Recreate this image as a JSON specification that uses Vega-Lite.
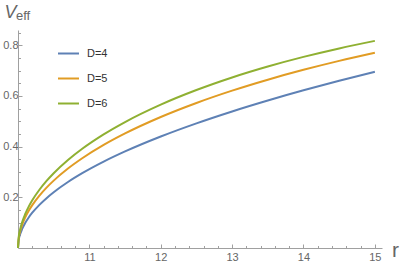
{
  "$schema": "https://vega.github.io/schema/vega-lite/v6.json",
  "width": 364,
  "height": 218,
  "autosize": {"type": "none"},
  "padding": {"left": 18, "top": 30, "right": 20, "bottom": 18},
  "background": "white",
  "title": {"text": "eff", "anchor": "start", "frame": "group", "dx": -2, "dy": 30, "offset": 0, "baseline": "alphabetic", "fontSize": 13, "font": "Liberation Sans", "fontWeight": "normal", "color": "#666666"},
  "config": {"view": {"stroke": null}, "font": "Liberation Sans"},
  "data": {"values": [
    {"r": 10, "V": 0, "D": "D=4"}, {"r": 10.01, "V": 0.0311, "D": "D=4"}, {"r": 10.03, "V": 0.0539, "D": "D=4"}, {"r": 10.06, "V": 0.0762, "D": "D=4"}, {"r": 10.1, "V": 0.0983, "D": "D=4"}, {"r": 10.15, "V": 0.1205, "D": "D=4"}, {"r": 10.2, "V": 0.1391, "D": "D=4"}, {"r": 10.3, "V": 0.1703, "D": "D=4"}, {"r": 10.4, "V": 0.1967, "D": "D=4"}, {"r": 10.5, "V": 0.2199, "D": "D=4"}, {"r": 10.7, "V": 0.2602, "D": "D=4"}, {"r": 10.9, "V": 0.295, "D": "D=4"}, {"r": 11.2, "V": 0.3407, "D": "D=4"}, {"r": 11.5, "V": 0.3809, "D": "D=4"}, {"r": 12, "V": 0.4398, "D": "D=4"}, {"r": 12.5, "V": 0.4917, "D": "D=4"}, {"r": 13, "V": 0.5387, "D": "D=4"}, {"r": 13.5, "V": 0.5818, "D": "D=4"}, {"r": 14, "V": 0.622, "D": "D=4"}, {"r": 14.5, "V": 0.6597, "D": "D=4"}, {"r": 15, "V": 0.6954, "D": "D=4"},
    {"r": 10, "V": 0, "D": "D=5"}, {"r": 10.01, "V": 0.0379, "D": "D=5"}, {"r": 10.03, "V": 0.0657, "D": "D=5"}, {"r": 10.06, "V": 0.0929, "D": "D=5"}, {"r": 10.1, "V": 0.1197, "D": "D=5"}, {"r": 10.15, "V": 0.1466, "D": "D=5"}, {"r": 10.2, "V": 0.1691, "D": "D=5"}, {"r": 10.3, "V": 0.2066, "D": "D=5"}, {"r": 10.4, "V": 0.2382, "D": "D=5"}, {"r": 10.5, "V": 0.2658, "D": "D=5"}, {"r": 10.7, "V": 0.3134, "D": "D=5"}, {"r": 10.9, "V": 0.3539, "D": "D=5"}, {"r": 11.2, "V": 0.4065, "D": "D=5"}, {"r": 11.5, "V": 0.4519, "D": "D=5"}, {"r": 12, "V": 0.5168, "D": "D=5"}, {"r": 12.5, "V": 0.5722, "D": "D=5"}, {"r": 13, "V": 0.6208, "D": "D=5"}, {"r": 13.5, "V": 0.664, "D": "D=5"}, {"r": 14, "V": 0.7029, "D": "D=5"}, {"r": 14.5, "V": 0.7381, "D": "D=5"}, {"r": 15, "V": 0.7702, "D": "D=5"},
    {"r": 10, "V": 0, "D": "D=6"}, {"r": 10.01, "V": 0.0423, "D": "D=6"}, {"r": 10.03, "V": 0.0732, "D": "D=6"}, {"r": 10.06, "V": 0.1035, "D": "D=6"}, {"r": 10.1, "V": 0.1333, "D": "D=6"}, {"r": 10.15, "V": 0.1632, "D": "D=6"}, {"r": 10.2, "V": 0.1881, "D": "D=6"}, {"r": 10.3, "V": 0.2297, "D": "D=6"}, {"r": 10.4, "V": 0.2646, "D": "D=6"}, {"r": 10.5, "V": 0.295, "D": "D=6"}, {"r": 10.7, "V": 0.3471, "D": "D=6"}, {"r": 10.9, "V": 0.3914, "D": "D=6"}, {"r": 11.2, "V": 0.4482, "D": "D=6"}, {"r": 11.5, "V": 0.4969, "D": "D=6"}, {"r": 12, "V": 0.5656, "D": "D=6"}, {"r": 12.5, "V": 0.6232, "D": "D=6"}, {"r": 13, "V": 0.6728, "D": "D=6"}, {"r": 13.5, "V": 0.7159, "D": "D=6"}, {"r": 14, "V": 0.7539, "D": "D=6"}, {"r": 14.5, "V": 0.7874, "D": "D=6"}, {"r": 15, "V": 0.8171, "D": "D=6"}
  ]},
  "mark": {"type": "line", "strokeWidth": 2, "interpolate": "monotone", "clip": false},
  "encoding": {
    "x": {
      "field": "r", "type": "quantitative",
      "scale": {"domain": [10, 15.1], "nice": false, "zero": false},
      "axis": {
        "values": [10.2, 10.4, 10.6, 10.8, 11, 11.2, 11.4, 11.6, 11.8, 12, 12.2, 12.4, 12.6, 12.8, 13, 13.2, 13.4, 13.6, 13.8, 14, 14.2, 14.4, 14.6, 14.8, 15],
        "labelExpr": "datum.value % 1 === 0 ? format(datum.value, 'd') : ''",
        "tickSize": {"condition": {"test": "datum.value % 1 === 0", "value": -4}, "value": -2.5},
        "labelPadding": 7,
        "grid": false,
        "domainColor": "#a0a0a0",
        "tickColor": "#a0a0a0",
        "labelColor": "#666666",
        "labelFontSize": 11,
        "labelFlush": false,
        "title": "r",
        "titleFontSize": 21,
        "titleFontWeight": "normal",
        "titleColor": "#666666",
        "titleX": 377,
        "titleY": 8,
        "titleAlign": "center",
        "titleBaseline": "alphabetic"
      }
    },
    "y": {
      "field": "V", "type": "quantitative",
      "scale": {"domain": [0, 0.86], "nice": false},
      "axis": {
        "values": [0.05, 0.1, 0.15, 0.2, 0.25, 0.3, 0.35, 0.4, 0.45, 0.5, 0.55, 0.6, 0.65, 0.7, 0.75, 0.8, 0.85],
        "labelExpr": "abs(datum.value * 5 - round(datum.value * 5)) < 0.000001 ? format(datum.value, '.1f') : ''",
        "tickSize": {"condition": {"test": "abs(datum.value * 5 - round(datum.value * 5)) < 0.000001", "value": -4}, "value": -2.5},
        "labelPadding": 4,
        "grid": false,
        "domainColor": "#a0a0a0",
        "tickColor": "#a0a0a0",
        "labelColor": "#666666",
        "labelFontSize": 11,
        "labelFlush": false,
        "title": "V",
        "titleFontSize": 18,
        "titleFontStyle": "italic",
        "titleFontWeight": "normal",
        "titleColor": "#666666",
        "titleAngle": 0,
        "titleX": -8,
        "titleY": -18,
        "titleAlign": "center",
        "titleBaseline": "middle"
      }
    },
    "color": {
      "field": "D", "type": "nominal",
      "scale": {"domain": ["D=4", "D=5", "D=6"], "range": ["#5E81B5", "#E19C24", "#8FB032"]},
      "legend": {
        "title": null,
        "orient": "none",
        "legendX": 39,
        "legendY": 12,
        "padding": 0,
        "symbolType": "stroke",
        "symbolSize": 441,
        "symbolStrokeWidth": 2,
        "rowPadding": 8,
        "labelOffset": 7,
        "labelFontSize": 11,
        "labelColor": "#333333"
      }
    }
  }
}
